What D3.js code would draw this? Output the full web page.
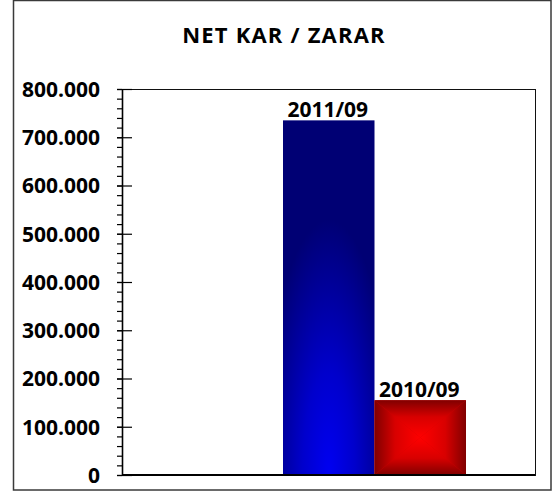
<!DOCTYPE html>
<html>
<head>
<meta charset="utf-8">
<script src="https://cdn.jsdelivr.net/npm/d3@7"></script>
<style>
  html, body { margin: 0; padding: 0; background: #fff; }
  svg { display: block; }
</style>
</head>
<body>
<main></main>
<script>
// Chart data
const title = "NET KAR / ZARAR";
const series = ["2011/09", "2010/09"];
const values = [735000, 155000];
const yMax = 800000;

const width = 552;
const height = 492;
const plot = { left: 122, top: 89, right: 535, bottom: 475 };
const plotW = plot.right - plot.left;
const plotH = plot.bottom - plot.top;
const font = "'Open Sans', sans-serif";

// Turkish number format: dot as thousands separator.
const trFormat = d3.formatLocale({
  decimal: ",",
  thousands: ".",
  grouping: [3],
  currency: ["", " TL"],
}).format(",.0f");

const svg = d3
  .create("svg")
  .attr("width", width)
  .attr("height", height)
  .style("background", "#fff");

const defs = svg.append("defs");

// Blue bar: dark edges and top, bright at bottom centre.
const blueGrad = defs
  .append("radialGradient")
  .attr("id", "blueGrad")
  .attr("cx", 0.5)
  .attr("cy", 1)
  .attr("r", 0.72)
  .attr("fx", 0.5)
  .attr("fy", 1);
blueGrad.append("stop").attr("offset", "0%").attr("stop-color", "#0000f2");
blueGrad.append("stop").attr("offset", "40%").attr("stop-color", "#0000cc");
blueGrad.append("stop").attr("offset", "100%").attr("stop-color", "#000074");

// Red bar: rectangle gradient built from four triangles.
const redDirs = {
  top: [0, 0, 0, 1],
  bottom: [0, 1, 0, 0],
  left: [0, 0, 1, 0],
  right: [1, 0, 0, 0],
};
for (const [k, [x1, y1, x2, y2]] of Object.entries(redDirs)) {
  const g = defs
    .append("linearGradient")
    .attr("id", "red-" + k)
    .attr("x1", x1)
    .attr("y1", y1)
    .attr("x2", x2)
    .attr("y2", y2);
  g.append("stop").attr("offset", "0%").attr("stop-color", "#800000");
  g.append("stop").attr("offset", "45%").attr("stop-color", "#d80000");
  g.append("stop").attr("offset", "100%").attr("stop-color", "#ff0000");
}

// Outer chart border
svg
  .append("rect")
  .attr("x", 13.5)
  .attr("y", 0.5)
  .attr("width", 537.5)
  .attr("height", 489.5)
  .attr("fill", "none")
  .attr("stroke", "#3a3a3a")
  .attr("stroke-width", 1.5);

// Title
svg
  .append("text")
  .attr("x", 284)
  .attr("y", 43)
  .attr("text-anchor", "middle")
  .attr("font-family", font)
  .attr("font-weight", "bold")
  .attr("font-size", 22)
  .attr("letter-spacing", 1.2)
  .text(title);

const g = svg
  .append("g")
  .attr("transform", "translate(" + plot.left + "," + plot.top + ")");

const y = d3.scaleLinear().domain([0, yMax]).range([plotH, 0]);
const x = d3.scaleBand().domain(series).range([161, 344]).paddingInner(0);

// Plot area border
g.append("rect")
  .attr("x", 0.5)
  .attr("y", 0.5)
  .attr("width", plotW)
  .attr("height", plotH)
  .attr("fill", "none")
  .attr("stroke", "#111")
  .attr("stroke-width", 1);

// Bars
const bars = g.append("g");
series.forEach((s, i) => {
  const x0 = x(s);
  const bw = x.bandwidth();
  const y0 = y(values[i]);
  const y1 = y(0);
  if (i === 0) {
    bars
      .append("rect")
      .attr("x", x0)
      .attr("y", y0)
      .attr("width", bw)
      .attr("height", y1 - y0)
      .attr("fill", "url(#blueGrad)");
  } else {
    // base fill hides seams between the triangles
    bars
      .append("rect")
      .attr("x", x0)
      .attr("y", y0)
      .attr("width", bw)
      .attr("height", y1 - y0)
      .attr("fill", "#d00000");
    const cx = x0 + bw / 2;
    const cy = (y0 + y1) / 2;
    const x1 = x0 + bw;
    const tris = {
      top: [[x0, y0], [x1, y0], [cx, cy]],
      bottom: [[x0, y1], [x1, y1], [cx, cy]],
      left: [[x0, y0], [x0, y1], [cx, cy]],
      right: [[x1, y0], [x1, y1], [cx, cy]],
    };
    for (const [k, pts] of Object.entries(tris)) {
      bars
        .append("path")
        .attr("d", "M" + pts.map((p) => p.join(",")).join("L") + "Z")
        .attr("fill", "url(#red-" + k + ")");
    }
  }
});

// Bar labels
g.append("g")
  .selectAll("text")
  .data(series)
  .join("text")
  .attr("x", (d) => x(d) + x.bandwidth() / 2 - 1)
  .attr("y", (d, i) => y(values[i]) - 3.5)
  .attr("text-anchor", "middle")
  .attr("font-family", font)
  .attr("font-weight", "bold")
  .attr("font-size", 21)
  .text((d) => d);

// Minor ticks every 20.000
const minor = d3.axisLeft(y).ticks(40).tickSize(5).tickFormat("");
const minorG = g.append("g").call(minor);
minorG.select(".domain").remove();
minorG.selectAll("line").attr("stroke", "#000").attr("stroke-width", 1.2);

// Major axis: ticks crossing the axis line
const yAxis = d3
  .axisLeft(y)
  .ticks(8)
  .tickSizeInner(5)
  .tickSizeOuter(0)
  .tickPadding(17)
  .tickFormat(trFormat);
const axisG = g.append("g").call(yAxis);
axisG.select(".domain").attr("stroke", "#000").attr("stroke-width", 1.6);
axisG
  .selectAll(".tick line")
  .attr("x1", 10)
  .attr("stroke", "#000")
  .attr("stroke-width", 1.2);
axisG
  .selectAll(".tick text")
  .attr("font-family", font)
  .attr("font-weight", "bold")
  .attr("font-size", 21)
  .attr("fill", "#000")
  .attr("dy", "0.35em");

// Baseline
g.append("line")
  .attr("x1", 0)
  .attr("x2", plotW)
  .attr("y1", y(0))
  .attr("y2", y(0))
  .attr("stroke", "#000")
  .attr("stroke-width", 1.8);

document.querySelector("main").append(svg.node());
</script>
</body>
</html>
